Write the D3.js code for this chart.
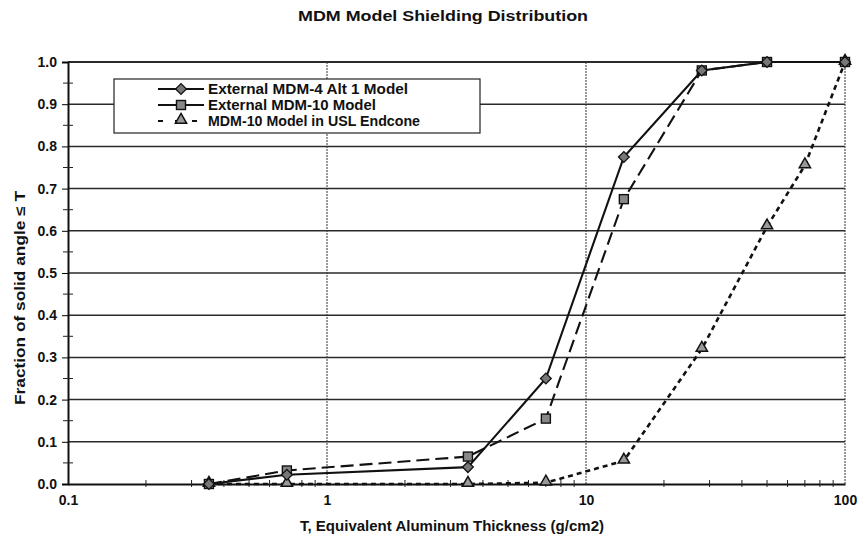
<!DOCTYPE html>
<html>
<head>
<meta charset="utf-8">
<script src="https://cdn.jsdelivr.net/npm/d3@7"></script>
<style>
body { margin: 0; background: #fff; }
text { font-family: "Liberation Sans", Arial, sans-serif; font-weight: bold; fill: #111; }
</style>
</head>
<body>
<div id="chart"></div>
<script>
var width = 860, height = 542;

// thickness values (g/cm2)
var thickAlt1 = [0.35, 0.7, 3.5, 7, 14, 28, 50, 100];
var fracAlt1  = [0, 0.022, 0.04, 0.25, 0.775, 0.98, 1.0, 1.0];

var thickM10 = [0.35, 0.7, 3.5, 7, 14, 28, 50, 100];
var fracM10  = [0, 0.032, 0.065, 0.155, 0.675, 0.98, 1.0, 1.0];

var thickEnd = [0.35, 0.7, 3.5, 7, 14, 28, 50, 70, 100];
var fracEnd  = [0, 0, 0, 0.003, 0.055, 0.32, 0.61, 0.755, 1.0];

var xTicks = [0.1, 1, 10, 100];
var yTicks = [0, 0.1, 0.2, 0.3, 0.4, 0.5, 0.6, 0.7, 0.8, 0.9, 1.0];

var series = [
    {name: "External MDM-4 Alt 1 Model", x: thickAlt1, y: fracAlt1, dash: null, legendDash: null, marker: "diamond", len: 200},
    {name: "External MDM-10 Model", x: thickM10, y: fracM10, dash: "13,6", legendDash: null, marker: "square", len: 168},
    {name: "MDM-10 Model in USL Endcone", x: thickEnd, y: fracEnd, dash: "5,4", legendDash: "5,12", marker: "triangle", len: 212}
];

var margin = {left: 68, right: 15, top: 62, bottom: 58};

var svg = d3.select("#chart").append("svg").attr("width", width).attr("height", height);

var x = d3.scaleLog().domain([0.1, 100]).range([margin.left, width - margin.right]);
var y = d3.scaleLinear().domain([0, 1]).range([height - margin.bottom, margin.top]);

// horizontal grid
svg.append("g").selectAll("line").data(yTicks.slice(1)).enter().append("line")
    .attr("x1", x(0.1)).attr("x2", x(100))
    .attr("y1", function(d){ return y(d); }).attr("y2", function(d){ return y(d); })
    .attr("stroke", "#2a2a2a").attr("stroke-width", function(d){ return d === 1 ? 2 : 1.5; });

// vertical grid at decades + right border
svg.append("g").selectAll("line").data([1, 10, 100]).enter().append("line")
    .attr("x1", function(d){ return x(d); }).attr("x2", function(d){ return x(d); })
    .attr("y1", y(0)).attr("y2", y(1))
    .attr("stroke", "#333").attr("stroke-width", 1).attr("stroke-dasharray", "2,1");

// axes
var minorX = [];
[0.1, 1, 10].forEach(function(dec){
    for (var k = 2; k <= 9; k++) minorX.push(dec * k);
});

var xAxis = svg.append("g").attr("transform", "translate(0," + y(0) + ")")
    .call(d3.axisBottom(x).tickValues(xTicks).tickFormat(function(d){ return String(d); }).tickSize(0).tickPadding(11));
xAxis.select(".domain").attr("stroke", "#111").attr("stroke-width", 2);
xAxis.selectAll("text").style("font-size", "14px");

svg.append("g").selectAll("line").data(minorX).enter().append("line")
    .attr("x1", function(d){ return x(d); }).attr("x2", function(d){ return x(d); })
    .attr("y1", y(0) - 4).attr("y2", y(0) + 3)
    .attr("stroke", "#222");

var yAxis = svg.append("g").attr("transform", "translate(" + x(0.1) + ",0)")
    .call(d3.axisLeft(y).tickValues(yTicks).tickFormat(d3.format(".1f")).tickSize(6).tickPadding(5));
yAxis.select(".domain").attr("stroke", "#111").attr("stroke-width", 2);
yAxis.selectAll("text").style("font-size", "14px");

var minorY = yTicks.slice(0, -1).map(function(d){ return d + 0.05; });
svg.append("g").selectAll("line").data(minorY).enter().append("line")
    .attr("x1", x(0.1) - 5).attr("x2", x(0.1) + 5)
    .attr("y1", function(d){ return y(d); }).attr("y2", function(d){ return y(d); })
    .attr("stroke", "#222");

// markers
function drawMarker(g, type, cx, cy){
    if (type === "diamond") {
        g.append("rect").attr("x", -3.8).attr("y", -3.8).attr("width", 7.6).attr("height", 7.6)
            .attr("transform", "translate(" + cx + "," + cy + ") rotate(45)")
            .attr("fill", "#777").attr("stroke", "#111").attr("stroke-width", 1.3);
    } else if (type === "square") {
        g.append("rect").attr("x", cx - 4.5).attr("y", cy - 4.5).attr("width", 9).attr("height", 9)
            .attr("fill", "#888").attr("stroke", "#111").attr("stroke-width", 1.4);
    } else {
        g.append("path").attr("d", d3.symbol().type(d3.symbolTriangle).size(55)())
            .attr("transform", "translate(" + cx + "," + (cy - 1) + ")")
            .attr("fill", "#999").attr("stroke", "#111").attr("stroke-width", 1.5);
    }
}

var line = d3.line().x(function(d){ return x(d[0]); }).y(function(d){ return y(d[1]); });

series.slice().reverse().forEach(function(s){
    var pts = s.x.map(function(v, i){ return [v, s.y[i]]; });
    svg.append("path").datum(pts).attr("d", line)
        .attr("fill", "none").attr("stroke", "#111")
        .attr("stroke-width", s.marker === "triangle" ? 2.6 : 2.1)
        .attr("stroke-dasharray", s.dash);
    var g = svg.append("g");
    pts.forEach(function(p){ drawMarker(g, s.marker, x(p[0]), y(p[1])); });
});

// legend
var lg = svg.append("g");
lg.append("rect").attr("x", 114).attr("y", 79).attr("width", 366).attr("height", 54)
    .attr("fill", "#fff").attr("stroke", "#222").attr("stroke-width", 1.2);
series.forEach(function(s, i){
    var ly = 89 + i * 16;
    lg.append("line").attr("x1", 158).attr("x2", 204).attr("y1", ly).attr("y2", ly)
        .attr("stroke", "#111").attr("stroke-width", 2)
        .attr("stroke-dasharray", s.legendDash);
    drawMarker(lg, s.marker, 181, ly);
    lg.append("text").attr("x", 208).attr("y", ly + 5)
        .attr("textLength", s.len).attr("lengthAdjust", "spacingAndGlyphs")
        .style("font-size", "14px").text(s.name);
});

// titles
svg.append("text").attr("x", 298).attr("y", 21)
    .attr("textLength", 290).attr("lengthAdjust", "spacingAndGlyphs")
    .style("font-size", "14.5px").text("MDM Model Shielding Distribution");

svg.append("text").attr("x", 300).attr("y", 531)
    .attr("textLength", 304).attr("lengthAdjust", "spacingAndGlyphs")
    .style("font-size", "14px").text("T, Equivalent Aluminum Thickness (g/cm2)");

svg.append("text").attr("transform", "translate(25,405) rotate(-90)")
    .attr("textLength", 214).attr("lengthAdjust", "spacingAndGlyphs")
    .style("font-size", "14px").text("Fraction of solid angle \u2264 T");
</script>
</body>
</html>
